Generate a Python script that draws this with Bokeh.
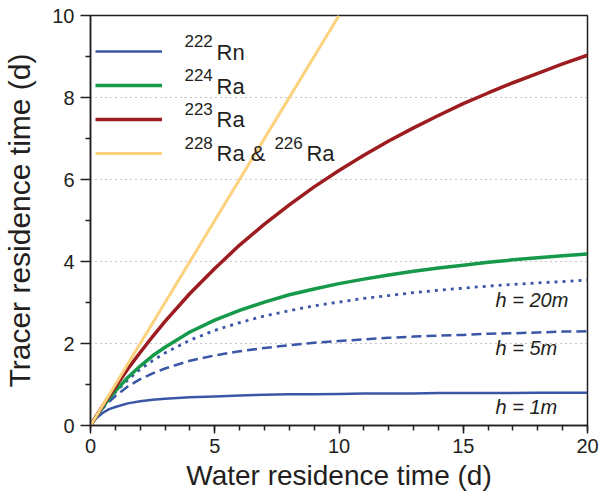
from bokeh.plotting import figure
from bokeh.models import Range1d, FixedTicker, Legend, LegendItem
from bokeh.core.properties import value
from bokeh.embed import file_html
from bokeh.resources import INLINE

# ---- data ----
water_time = [0, 0.25, 0.5, 0.75, 1, 1.5, 2, 2.5, 3, 4, 5, 6, 7, 8, 9, 10,
              11, 12, 13, 14, 15, 16, 17, 18, 19, 20]
rn222_h1 = [0, 0.19, 0.31, 0.40, 0.45, 0.54, 0.59, 0.63, 0.65, 0.69, 0.71, 0.73, 0.75, 0.76, 0.76,
            0.77, 0.78, 0.78, 0.78, 0.79, 0.79, 0.79, 0.79, 0.80, 0.80, 0.80]
rn222_h5 = [0, 0.23, 0.42, 0.58, 0.72, 0.95, 1.13, 1.27, 1.39, 1.58, 1.71, 1.81, 1.89, 1.96, 2.02,
            2.06, 2.10, 2.14, 2.17, 2.19, 2.21, 2.24, 2.25, 2.27, 2.29, 2.30]
rn222_h20 = [0, 0.24, 0.45, 0.64, 0.81, 1.11, 1.37, 1.58, 1.77, 2.08, 2.32, 2.51, 2.67, 2.80, 2.92,
             3.01, 3.10, 3.17, 3.24, 3.30, 3.35, 3.40, 3.44, 3.48, 3.51, 3.55]
ra224 = [0, 0.24, 0.46, 0.66, 0.84, 1.17, 1.45, 1.70, 1.91, 2.28, 2.57, 2.81, 3.01, 3.19, 3.33,
         3.46, 3.57, 3.67, 3.76, 3.84, 3.91, 3.98, 4.04, 4.09, 4.14, 4.18]
ra223 = [0, 0.25, 0.49, 0.72, 0.94, 1.38, 1.78, 2.17, 2.54, 3.22, 3.83, 4.40, 4.91, 5.38, 5.82,
         6.22, 6.59, 6.94, 7.26, 7.56, 7.85, 8.11, 8.36, 8.59, 8.82, 9.03]
ra228_226_x = [0, 10]
ra228_226_y = [0, 10]

x_ticks = [0, 5, 10, 15, 20]
x_minor_ticks = list(range(0, 21))
y_ticks = [0, 2, 4, 6, 8, 10]
y_minor_ticks = [1, 3, 5, 7, 9]
grid_ticks = [2, 4, 6, 8]

# legend texts: mass numbers (superscript) and element names
legend_sup_text = ["222", "224", "223", "228", "226"]
legend_base_text = ["Rn", "Ra", "Ra", "Ra &", "Ra"]
# annotation texts
note_text = ["h = 20m", "h = 5m", "h = 1m"]

# ---- text placement (data units) ----
legend_sup_x = [3.78, 3.78, 3.78, 3.78, 7.40]
legend_sup_y = [9.37, 8.54, 7.73, 6.90, 6.90]
legend_base_x = [5.07, 5.07, 5.07, 5.07, 8.69]
legend_base_y = [9.10, 8.27, 7.46, 6.63, 6.63]
note_x = [16.3, 16.3, 16.3]
note_y = [3.05, 1.90, 0.46]

# ---- styling ----
FONT = "Liberation Sans"
INK = "#231F20"
BLUE = "#3A56A6"
GREEN = "#16994A"
RED = "#9C1C20"
YELLOW = "#FCD27E"

p = figure(width=600, height=493, x_range=Range1d(0, 20), y_range=Range1d(0, 10),
           output_backend="svg", toolbar_location=None,
           min_border_left=90, min_border_right=13, min_border_top=15, min_border_bottom=68)
p.background_fill_color = "white"
p.border_fill_color = "white"
p.outline_line_color = INK
p.outline_line_width = 1.5

p.xgrid.visible = False
p.ygrid.ticker = FixedTicker(ticks=grid_ticks)
p.ygrid.grid_line_color = "#8a8a8a"
p.ygrid.grid_line_dash = "1 4"
p.ygrid.grid_line_width = 1

p.xaxis.ticker = FixedTicker(ticks=x_ticks, minor_ticks=x_minor_ticks)
p.yaxis.ticker = FixedTicker(ticks=y_ticks, minor_ticks=y_minor_ticks)

for ax in (p.xaxis[0], p.yaxis[0]):
    ax.axis_line_color = INK
    ax.axis_line_width = 1.5
    ax.major_tick_line_color = INK
    ax.major_tick_line_width = 1.5
    ax.minor_tick_line_color = INK
    ax.minor_tick_line_width = 1.5
    ax.major_tick_in = 0
    ax.minor_tick_in = 0
    ax.minor_tick_out = 5
    ax.major_label_text_font = FONT
    ax.major_label_text_font_size = "20px"
    ax.major_label_text_color = INK
    ax.axis_label_text_font = FONT
    ax.axis_label_text_font_style = "normal"
    ax.axis_label_text_color = INK

p.xaxis.major_tick_out = 8
p.yaxis.major_tick_out = 10
p.xaxis.major_label_standoff = 5
p.yaxis.major_label_standoff = 6
p.xaxis.axis_label = "Water residence time (d)"
p.yaxis.axis_label = "Tracer residence time (d)"
p.xaxis.axis_label_text_font_size = "28px"
p.yaxis.axis_label_text_font_size = "30px"
p.xaxis.axis_label_standoff = 4
p.yaxis.axis_label_standoff = 13

# ---- curves ----
r_h1 = p.line(water_time, rn222_h1, line_color=BLUE, line_width=2.5)
r_h5 = p.line(water_time, rn222_h5, line_color=BLUE, line_width=2.5, line_dash="10 5")
r_h20 = p.line(water_time, rn222_h20, line_color=BLUE, line_width=2.8, line_dash="3 5")
r_224 = p.line(water_time, ra224, line_color=GREEN, line_width=3.5)
r_223 = p.line(water_time, ra223, line_color=RED, line_width=3.5)
r_228 = p.line(ra228_226_x, ra228_226_y, line_color=YELLOW, line_width=3)

p.text(x=note_x, y=note_y, text=note_text, text_font=value(FONT), text_font_style="italic",
       text_font_size="20px", text_color=INK, text_baseline="alphabetic", text_align="left")

# legend sample lines (library legend) with superscripted labels drawn as text
legend = Legend(items=[LegendItem(label=" ", renderers=[r_h1]),
                       LegendItem(label=" ", renderers=[r_224]),
                       LegendItem(label=" ", renderers=[r_223]),
                       LegendItem(label=" ", renderers=[r_228])],
                location=(5, 257), margin=0, padding=0, spacing=4,
                glyph_width=67, glyph_height=30, label_height=30, label_standoff=22,
                label_text_font=FONT, label_text_font_size="22px", label_text_color=INK,
                border_line_color=None, background_fill_alpha=0)
p.add_layout(legend)

p.text(x=legend_sup_x, y=legend_sup_y, text=legend_sup_text, text_font=value(FONT),
       text_font_size="17px", text_color=INK, text_baseline="alphabetic", text_align="left")
p.text(x=legend_base_x, y=legend_base_y, text=legend_base_text, text_font=value(FONT),
       text_font_size="22px", text_color=INK, text_baseline="alphabetic", text_align="left")

open("out.html", "w").write(file_html(p, INLINE))
